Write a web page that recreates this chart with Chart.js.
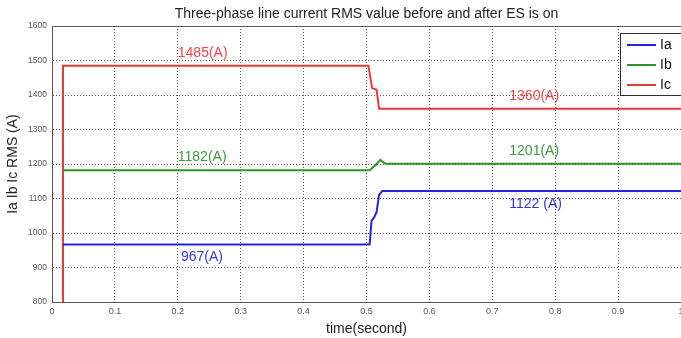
<!DOCTYPE html>
<html>
<head>
<meta charset="utf-8">
<script src="https://cdn.jsdelivr.net/npm/chart.js@4.4.1/dist/chart.umd.min.js"></script>
<style>
  html, body { margin: 0; padding: 0; background: #fff; overflow: hidden; }
  #wrap { width: 681px; height: 338px; overflow: hidden; }
</style>
</head>
<body>
<div id="wrap"><canvas id="chart" width="700" height="338"></canvas></div>
<script>
// RMS line currents, sampled at the step changes (time in seconds, current in A)
const timeA = [0.0175, 0.505, 0.508, 0.512, 0.516, 0.520, 0.525, 1.0];
const ia    = [967, 967, 1035, 1045, 1060, 1110, 1122, 1122];

const timeB = [0.0175, 0.505, 0.510, 0.515, 0.519, 0.522, 0.526, 0.530, 1.0];
const ib    = [1182, 1182, 1190, 1198, 1206, 1212, 1206, 1201, 1201];

const timeC = [0.0175, 0.0175, 0.503, 0.509, 0.512, 0.516, 0.520, 1.0];
const ic    = [800, 1485, 1485, 1420, 1418, 1415, 1360, 1360];

const seriesNames = ['Ia', 'Ib', 'Ic'];
const seriesColors = ['#2424e6', '#2b962b', '#e83a3a'];

const titleText = 'Three-phase line current RMS value before and after ES is on';

// value annotations: [series index, time position, value, text suffix, above/below line]
const notes = [
  [2, 0.20, 1485, '(A)', -1],
  [1, 0.20, 1182, '(A)', -1],
  [0, 0.205, 967, '(A)', 1],
  [2, 0.727, 1360, '(A)', -1],
  [1, 0.727, 1201, '(A)', -1],
  [0, 0.727, 1122, ' (A)', 1]
];
const noteColors = ['#3535e0', '#3d9a3d', '#ec4545'];

const FONT = 'Arial, "Liberation Sans", sans-serif';
const toPoints = (xs, ys) => xs.map((x, i) => ({ x: x, y: ys[i] }));

const frameAndNotes = {
  id: 'frameAndNotes',
  afterDatasetsDraw(chart) {
    const { ctx, chartArea: a, scales } = chart;
    ctx.save();
    // axes box
    ctx.strokeStyle = '#555';
    ctx.lineWidth = 1;
    ctx.strokeRect(a.left + 0.5, a.top + 0.5, a.right - a.left, a.bottom - a.top);

    // title, centred over the plot
    ctx.fillStyle = '#222';
    ctx.font = '14px ' + FONT;
    ctx.textAlign = 'center';
    ctx.textBaseline = 'middle';
    ctx.fillText(titleText, (a.left + a.right) / 2, 14);

    // value labels
    ctx.textAlign = 'left';
    notes.forEach(([s, t, v, suf, side]) => {
      const px = scales.x.getPixelForValue(t);
      const py = scales.y.getPixelForValue(v) + side * 13;
      ctx.fillStyle = noteColors[s];
      ctx.fillText(v + suf, px, py);
    });

    // legend box in the upper right corner
    const bx = 620, by = 33, bw = 80, bh = 62;
    ctx.fillStyle = '#fff';
    ctx.fillRect(bx, by, bw, bh);
    ctx.strokeStyle = '#333';
    ctx.strokeRect(bx + 0.5, by + 0.5, bw, bh);
    seriesNames.forEach((name, i) => {
      const ly = by + 12 + i * 20;
      ctx.strokeStyle = seriesColors[i];
      ctx.lineWidth = 2;
      ctx.beginPath();
      ctx.moveTo(bx + 7, ly);
      ctx.lineTo(bx + 36, ly);
      ctx.stroke();
      ctx.fillStyle = '#111';
      ctx.fillText(name, bx + 40, ly);
    });
    ctx.restore();
  }
};

const gridStyle = {
  color: '#555',
  lineWidth: 1,
  drawTicks: false
};

new Chart(document.getElementById('chart'), {
  type: 'line',
  data: {
    datasets: [
      { label: 'Ia', data: toPoints(timeA, ia), borderColor: seriesColors[0] },
      { label: 'Ib', data: toPoints(timeB, ib), borderColor: seriesColors[1] },
      { label: 'Ic', data: toPoints(timeC, ic), borderColor: seriesColors[2] }
    ].map(d => Object.assign(d, { borderWidth: 2, pointRadius: 0, tension: 0, fill: false }))
  },
  options: {
    responsive: false,
    animation: false,
    layout: { padding: { left: 0, right: 19, top: 26, bottom: 0 } },
    plugins: {
      legend: { display: false },
      tooltip: { enabled: false },
      title: { display: false }
    },
    scales: {
      x: {
        type: 'linear',
        min: 0,
        max: 1,
        grid: gridStyle,
        border: { display: true, color: '#555', dash: [1, 2] },
        ticks: {
          stepSize: 0.1,
          color: '#555',
          padding: 4,
          font: { family: FONT, size: 9 },
          maxRotation: 0,
          callback: v => String(Math.round(v * 10) / 10)
        },
        title: {
          display: true,
          text: 'time(second)',
          color: '#222',
          font: { family: FONT, size: 14 },
          padding: { top: 0, bottom: 0 }
        },
        afterFit(scale) { scale.height = 36; }
      },
      y: {
        min: 800,
        max: 1600,
        grid: gridStyle,
        border: { display: true, color: '#555', dash: [1, 2] },
        ticks: {
          stepSize: 100,
          color: '#555',
          padding: 5,
          font: { family: FONT, size: 8.5 },
          callback: v => String(v)
        },
        title: {
          display: true,
          text: 'Ia Ib Ic RMS (A)',
          color: '#222',
          font: { family: FONT, size: 14 },
          padding: { top: 5, bottom: 0 }
        },
        afterFit(scale) { scale.width = 52; }
      }
    }
  },
  plugins: [frameAndNotes]
});
</script>
</body>
</html>
